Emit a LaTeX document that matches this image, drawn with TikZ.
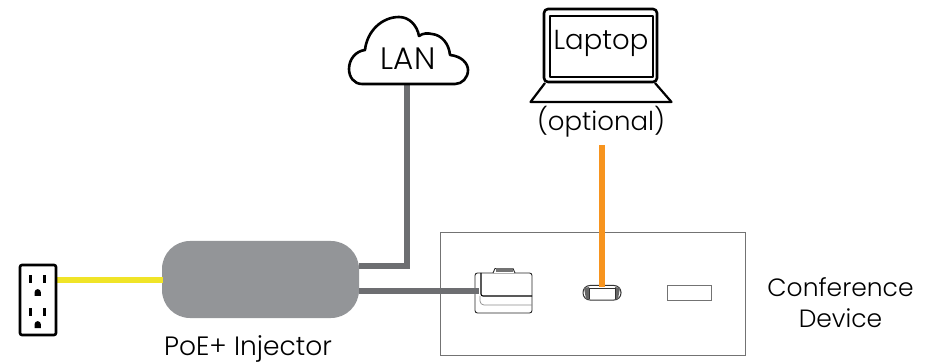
\documentclass[tikz,border=0pt]{standalone}
\usepackage{fontspec}
\setmainfont{Poppins Light}
\definecolor{cablegray}{HTML}{6D6E71}
\definecolor{injgray}{HTML}{939598}
\definecolor{cableyellow}{HTML}{F0E428}
\definecolor{cableorange}{HTML}{F7941E}
\tikzset{
  cable/.style={line width=5.1pt,line join=miter},
  icon/.style={draw=black,line width=2.6pt,line join=round},
  thinport/.style={draw=black!85,line width=0.9pt,line join=round},
  lbl/.style={font=\fontsize{25}{28}\selectfont,text=black,inner sep=0pt,align=center}
}
\begin{document}
\begin{tikzpicture}[x=1pt,y=-1pt]
\useasboundingbox (0,0) rectangle (934,363);
% coordinates for cables
\coordinate (cloudbot) at (407,84);
\coordinate (lanport) at (359,266);
\coordinate (lancorner) at (407,266);
\coordinate (injport) at (359,291);
\coordinate (devport) at (479,291);
\coordinate (optbot) at (602,145);
\coordinate (usbc) at (602,287);
\coordinate (outletport) at (57,280);
\coordinate (injleft) at (163,280);
% conference device panel
\node[draw=black!55,line width=0.9pt,minimum width=304.5pt,minimum height=123.5pt,inner sep=0pt] (panel) at (593,293.8) {};
% injector
\node[fill=injgray,rounded corners=28pt,minimum width=197pt,minimum height=77pt,inner sep=0pt] (injector) at (260.5,279.5) {};
% cables
\draw[cable,cablegray] (cloudbot) -- (lancorner) -- (lanport);
\draw[cable,cableorange] (optbot) -- (usbc);
\draw[cable,cableyellow] (outletport) -- (injleft);
% cloud
\draw[icon,fill=white] (362,84)
  .. controls (354,84) and (349,77) .. (349,69)
  .. controls (349,59) and (356,51) .. (365,50)
  .. controls (367,31) and (382,17) .. (399,17)
  .. controls (409,17) and (417,25) .. (419,36)
  .. controls (423,33) and (428,33) .. (432,34)
  .. controls (442,35) and (449,44) .. (450,55)
  .. controls (461,56) and (468,63) .. (468,70)
  .. controls (468,78) and (462,84) .. (455,84)
  -- cycle;
\node[lbl,font=\fontsize{31}{32}\selectfont] (lan) at (408,59) {LAN};
% laptop
\draw[icon,rounded corners=4pt] (544,9) rectangle (657,82);
\draw[icon] (550,16) rectangle (653,77);
\draw[icon,line width=2.2pt] (545,83) -- (530.5,102) -- (671.5,102) -- (655,83);
\node[lbl,font=\fontsize{27.5}{28}\selectfont] (laptop) at (601,43) {Laptop};
\node[lbl,font=\fontsize{26}{28}\selectfont] (optional) at (601,122) {(optional)};
% outlet
\draw[icon,rounded corners=2pt] (20,265) rectangle (56,335);
\foreach \yy in {0,32}{
  \fill[black] (29.3,275.5+\yy) rectangle (32,283.5+\yy);
  \fill[black] (43,275.5+\yy) rectangle (45.7,283.5+\yy);
  \fill[black] (34.5,296+\yy) -- (34.5,292.5+\yy) arc[start angle=180,end angle=360,x radius=3.2pt,y radius=-3.4pt] -- (40.9,296+\yy) -- cycle;
}
% RJ45 jack
\draw[thinport,rounded corners=2.5pt,fill=white] (475,273) rectangle (532,313);
\draw[thinport,fill=white] (493,273) -- (495,268.5) -- (513,268.5) -- (515,273);
\fill[black!55] (495.5,268.5) rectangle (512.5,272.5);
\draw[draw=black!45,line width=0.7pt,rounded corners=4pt] (480,296) -- (480,305) -- (532,305);
\draw[cable,cablegray] (injport) -- (devport);
\draw[draw=black,line width=1.1pt,rounded corners=2pt] (481,273) -- (481,296) -- (532,296);
% USB-C
\draw[draw=black!80,line width=1pt,fill=white,rounded corners=7pt] (583,285.5) rectangle (621,300);
\fill[black!60] (584,288) -- (589,287) -- (589,299.5) -- (586,299) -- cycle;
\fill[black!60] (620,288) -- (615,287) -- (615,299.5) -- (618,299) -- cycle;
\draw[draw=black!80,line width=0.8pt] (589,299) -- (589,288.5) -- (615,288.5) -- (615,299);
\draw[cable,cableorange] (602,280) -- (usbc);
% USB-A
\node[draw=black!55,line width=0.9pt,fill=white,minimum width=44pt,minimum height=15pt,inner sep=0pt] (usba) at (689.5,292.5) {};
% labels
\node[lbl,font=\fontsize{26.5}{28}\selectfont,anchor=base] (inj) at (248,355) {PoE+ Injector};
\node[lbl] (conf) at (840.5,287) {Conference};
\node[lbl] (dev) at (840.5,318) {Device};
\end{tikzpicture}
\end{document}
